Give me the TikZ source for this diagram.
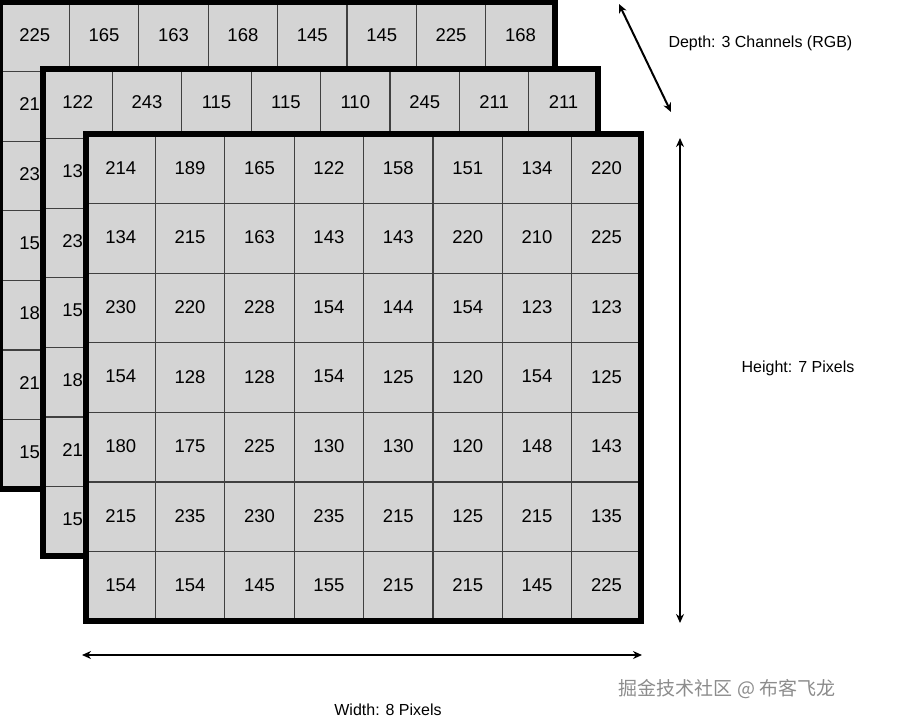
\documentclass[tikz,border=0pt]{standalone}
\usepackage{fontspec}
\setmainfont{Liberation Sans}
\newfontfamily\cjk{Noto Sans CJK SC}
\usetikzlibrary{arrows.meta}
\tikzset{
 cell/.style={draw=black!75,line width=1.2pt,fill=black!17,minimum width=69.4pt,minimum height=69.6pt,inner sep=0pt,font=\fontsize{18.5}{18.5}\selectfont,anchor=center},
 frame/.style={draw=black,line width=6pt,fill=white},
 dim/.style={{Stealth[length=9pt,width=8pt]}-{Stealth[length=9pt,width=8pt]},line width=2pt},
 lbl/.style={font=\fontsize{16}{16}\selectfont}
}
\newcommand{\layer}[4]{% x0,y0,first row,first column (rows 2-7)
 \draw[frame] (#1,#2) rectangle ++(555,487);
 \foreach \r in {1,...,7}{
  \foreach \c in {1,...,8}{
   \node[cell] at ({#1+(\c-0.5)*69.4},{#2+(\r-0.5)*69.6}) {};
  }}
 \foreach \v [count=\c] in {#3}{
   \node[cell,draw=none,fill=none] at ({#1+(\c-0.5)*69.4},{#2+0.5*69.6-2}) {\v};}
 \foreach \v [count=\r from 2] in {#4}{
   \node[cell,draw=none,fill=none] at ({#1+0.5*69.4},{#2+(\r-0.5)*69.6-2}) {\v};}
 \draw[draw=black,line width=6pt] (#1,#2) rectangle ++(555,487);
}
\begin{document}
\begin{tikzpicture}[x=1pt,y=-1pt]
\useasboundingbox (0,0) rectangle (901,723);
\layer{0}{2}{225,165,163,168,145,145,225,168}{214,230,154,180,215,154}
\layer{43}{69}{122,243,115,115,110,245,211,211}{134,230,154,180,215,154}
\draw[frame] (86,134) rectangle ++(555,487);
\foreach \row [count=\r] in {{214,189,165,122,158,151,134,220},{134,215,163,143,143,220,210,225},{230,220,228,154,144,154,123,123},{154,128,128,154,125,120,154,125},{180,175,225,130,130,120,148,143},{215,235,230,235,215,125,215,135},{154,154,145,155,215,215,145,225}}{
  \foreach \v [count=\c] in \row{
   \node[cell] (f\r-\c) at ({86+(\c-0.5)*69.4},{134+(\r-0.5)*69.6}) {\raisebox{2pt}{\v}};
  }}
\draw[draw=black,line width=6pt] (86,134) rectangle ++(555,487);
\coordinate (d1) at (619,4);
\coordinate (d2) at (671,112);
\draw[dim] (d1) -- (d2);
\node[lbl,anchor=west] (dl) at (665,43) {Depth: 3 Channels (RGB)};
\coordinate (h1) at (680,138);
\coordinate (h2) at (680,623);
\draw[dim] (h1) -- (h2);
\node[lbl] (hl) at (798,368) {Height: 7 Pixels};
\coordinate (w1) at (82,655);
\coordinate (w2) at (642,655);
\draw[dim] (w1) -- (w2);
\node[lbl] (wl) at (388,710) {Width: 8 Pixels};
\node[font=\cjk\fontsize{19}{19}\selectfont,text=black!45] (wm) at (727,689) {掘金技术社区 @ 布客飞龙};
\end{tikzpicture}
\end{document}
